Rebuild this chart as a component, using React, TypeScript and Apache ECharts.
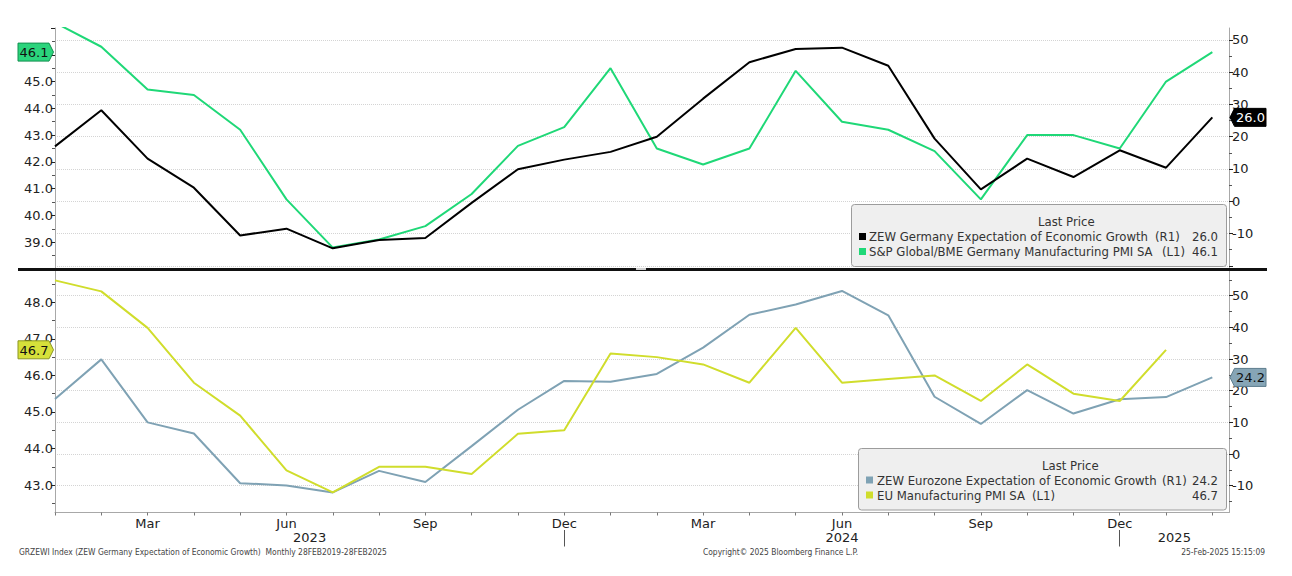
import React, { useEffect, useRef } from "react";
import * as echarts from "echarts";

// ---------- DATA ----------
const months = [
  "2023-01", "2023-02", "2023-03", "2023-04", "2023-05", "2023-06",
  "2023-07", "2023-08", "2023-09", "2023-10", "2023-11", "2023-12",
  "2024-01", "2024-02", "2024-03", "2024-04", "2024-05", "2024-06",
  "2024-07", "2024-08", "2024-09", "2024-10", "2024-11", "2024-12",
  "2025-01", "2025-02",
];
const monthNames = ["Jan", "Feb", "Mar", "Apr", "May", "Jun", "Jul", "Aug", "Sep", "Oct", "Nov", "Dec"];
const labelMonths = ["Mar", "Jun", "Sep", "Dec"];

// ZEW Germany Expectation of Economic Growth (R1)
const zewGermany = [
  17.0, 28.2, 13.2, 4.2, -10.6, -8.5, -14.6, -12.0, -11.4, -0.5, 9.9, 12.9,
  15.3, 20.0, 31.8, 43.1, 47.2, 47.6, 42.0, 19.4, 3.7, 13.2, 7.5, 15.8,
  10.4, 26.0,
];
// S&P Global/BME Germany Manufacturing PMI SA (L1)
const germanyPmi = [
  47.2, 46.3, 44.7, 44.5, 43.2, 40.6, 38.8, 39.1, 39.6, 40.8, 42.6, 43.3,
  45.5, 42.5, 41.9, 42.5, 45.4, 43.5, 43.2, 42.4, 40.6, 43.0, 43.0, 42.5,
  45.0, 46.1,
];
// ZEW Eurozone Expectation of Economic Growth (R1)
const zewEurozone = [
  17.4, 29.9, 10.0, 6.5, -9.2, -9.9, -12.1, -5.3, -8.8, 2.5, 14.0, 23.1,
  22.8, 25.3, 33.6, 44.0, 47.2, 51.5, 43.8, 18.1, 9.5, 20.2, 12.8, 17.3,
  18.0, 24.2,
];
// EU Manufacturing PMI SA (L1)
const euPmi: (number | null)[] = [
  48.6, 48.3, 47.3, 45.8, 44.9, 43.4, 42.8, 43.5, 43.5, 43.3, 44.4, 44.5,
  46.6, 46.5, 46.3, 45.8, 47.3, 45.8, 45.9, 46.0, 45.3, 46.3, 45.5, 45.3,
  46.7, null,
];

// Tick values
const topLeftTicks = [39, 40, 41, 42, 43, 44, 45, 46, 47];
const topLeftLabels = [39, 40, 41, 42, 43, 44, 45];
const topLeftMinor = [38.5, 39.5, 40.5, 41.5, 42.5, 43.5, 44.5, 45.5, 46.5];
const topRightTicks = [-20, -10, 0, 10, 20, 30, 40, 50];
const topRightLabels = [-10, 0, 10, 20, 30, 40, 50];
const topRightMinor = [-15, -5, 5, 15, 25, 35, 45];
const bottomLeftTicks = [43, 44, 45, 46, 47, 48];
const bottomLeftMinor = [42.5, 43.5, 44.5, 45.5, 46.5, 47.5, 48.5];
const bottomRightTicks = [-10, 0, 10, 20, 30, 40, 50];
const bottomRightMinor = [-15, -5, 5, 15, 25, 35, 45, 55];

// Axis ranges
const X_MAX = 25.36;
const TOP_L = [38, 47];
const TOP_R = [-21, 53.7];
const BOT_L = [42.248, 48.857];
const BOT_R = [-18.45, 57.8];

// ---------- STYLE ----------
const GREEN = "#1fd877";
const BLACK = "#000000";
const BLUEGRAY = "#7fa2b4";
const YELLOW = "#d0dd2c";
const AXIS_FONT = "DejaVu Sans";
const LEG_FONT = "'DejaVu Sans Condensed', 'Liberation Sans', sans-serif";
const FOOT_FONT = "'Liberation Sans Narrow', 'DejaVu Sans Condensed', 'Liberation Sans', sans-serif";

const lastOf = (arr: (number | null)[]) => {
  for (let i = arr.length - 1; i >= 0; i--) if (arr[i] != null) return arr[i] as number;
  return 0;
};
const pairs = (arr: (number | null)[]) =>
  arr.map((v, i) => [i, v]).filter((p) => p[1] != null);

const monthLabel = (i: number) => monthNames[parseInt(months[i].slice(5), 10) - 1];
const labelIdx = months.map((_, i) => i).filter((i) => labelMonths.includes(monthLabel(i)));
const tickIdx = months.map((_, i) => i);
const years = Array.from(new Set(months.map((m) => m.slice(0, 4))));
const yearBounds = years.map((y) => {
  const prev = months.indexOf(`${+y - 1}-12`);
  const cur = months.indexOf(`${y}-12`);
  const start = prev < 0 ? 0 : prev;
  const end = cur < 0 ? X_MAX : cur;
  return { year: y, mid: (start + end) / 2 };
});
const yearSeps = months.map((m, i) => (m.endsWith("-12") ? i : -1)).filter((i) => i >= 0);

const axisLabelStyle = { color: "#222", fontFamily: AXIS_FONT, fontSize: 13 };

function mainY(grid: number, pos: "left" | "right", range: number[], ticks: number[], labels: number[], decimals: number, split: boolean) {
  return {
    type: "value",
    gridIndex: grid,
    position: pos,
    min: range[0],
    max: range[1],
    axisLine: { show: true, onZero: false, lineStyle: { color: "#a8a8a8", width: 1 } },
    axisTick: { show: true, customValues: ticks, length: 4, inside: false, lineStyle: { color: "#222", width: 1 } },
    axisLabel: {
      show: true,
      customValues: labels,
      margin: pos === "left" ? 2 : 3,
      ...axisLabelStyle,
      formatter: (v: number) => v.toFixed(decimals),
    },
    splitLine: { show: split, lineStyle: { color: "#d4d4d4", type: "dotted", width: 1 } },
  };
}
function minorY(grid: number, pos: "left" | "right", range: number[], ticks: number[]) {
  return {
    type: "value",
    gridIndex: grid,
    position: pos,
    min: range[0],
    max: range[1],
    axisLine: { show: false, onZero: false },
    axisTick: { show: true, customValues: ticks, length: 3, lineStyle: { color: "#555", width: 1 } },
    axisLabel: { show: false },
    splitLine: { show: false },
  };
}

const baseOption: any = {
  animation: false,
  backgroundColor: "#ffffff",
  grid: [
    { left: 55, right: 63, top: 28, height: 241, containLabel: false },
    { left: 55, right: 63, top: 271, height: 241.5, containLabel: false },
  ],
  xAxis: [
    {
      type: "value", gridIndex: 0, min: 0, max: X_MAX, position: "bottom",
      axisLine: { show: false, onZero: false }, axisTick: { show: false }, axisLabel: { show: false }, splitLine: { show: false },
    },
    {
      type: "value", gridIndex: 1, min: 0, max: X_MAX, position: "bottom",
      axisLine: { show: true, onZero: false, lineStyle: { color: "#a8a8a8", width: 1 } },
      axisTick: { show: true, customValues: tickIdx, length: 3, lineStyle: { color: "#777" } },
      axisLabel: {
        show: true, customValues: labelIdx, margin: 4, ...axisLabelStyle,
        formatter: (v: number) => monthLabel(Math.round(v)),
      },
      splitLine: { show: false },
    },
    {
      type: "value", gridIndex: 1, min: 0, max: X_MAX, position: "bottom", offset: 14,
      axisLine: { show: false, onZero: false }, axisTick: { show: false },
      axisLabel: {
        show: true, customValues: yearBounds.map((b) => b.mid), margin: 4, ...axisLabelStyle,
        formatter: (v: number) => {
          const b = yearBounds.find((yb) => Math.abs(yb.mid - v) < 0.01);
          return b ? b.year : "";
        },
      },
      splitLine: { show: false },
    },
    {
      type: "value", gridIndex: 1, min: 0, max: X_MAX, position: "bottom", offset: 17.5,
      axisLine: { show: false, onZero: false },
      axisTick: { show: true, customValues: yearSeps, length: 16.5, lineStyle: { color: "#555", width: 1 } },
      axisLabel: { show: false },
      splitLine: { show: false },
    },
  ],
  yAxis: [
    mainY(0, "left", TOP_L, topLeftTicks, topLeftLabels, 1, false),
    mainY(0, "right", TOP_R, topRightTicks, topRightLabels, 0, true),
    minorY(0, "left", TOP_L, topLeftMinor),
    minorY(0, "right", TOP_R, topRightMinor),
    mainY(1, "left", BOT_L, bottomLeftTicks, bottomLeftTicks, 1, false),
    mainY(1, "right", BOT_R, bottomRightTicks, bottomRightTicks, 0, true),
    minorY(1, "left", BOT_L, bottomLeftMinor),
    minorY(1, "right", BOT_R, bottomRightMinor),
  ],
  series: [
    {
      name: "ZEW Germany Expectation of Economic Growth", type: "line", xAxisIndex: 0, yAxisIndex: 1,
      data: pairs(zewGermany), showSymbol: false, symbol: "none",
      lineStyle: { color: BLACK, width: 2 }, itemStyle: { color: BLACK }, z: 3,
    },
    {
      name: "S&P Global/BME Germany Manufacturing PMI SA", type: "line", xAxisIndex: 0, yAxisIndex: 0,
      data: pairs(germanyPmi), showSymbol: false, symbol: "none",
      lineStyle: { color: GREEN, width: 2 }, itemStyle: { color: GREEN }, z: 2,
    },
    {
      name: "ZEW Eurozone Expectation of Economic Growth", type: "line", xAxisIndex: 1, yAxisIndex: 5,
      data: pairs(zewEurozone), showSymbol: false, symbol: "none",
      lineStyle: { color: BLUEGRAY, width: 2 }, itemStyle: { color: BLUEGRAY }, z: 2,
    },
    {
      name: "EU Manufacturing PMI SA", type: "line", xAxisIndex: 1, yAxisIndex: 4,
      data: pairs(euPmi), showSymbol: false, symbol: "none",
      lineStyle: { color: YELLOW, width: 2 }, itemStyle: { color: YELLOW }, z: 3,
    },
  ],
};

function txt(x: number, y: number, text: string, opts: any = {}) {
  return {
    type: "text", x, y, z: 120, silent: true,
    style: {
      text, fill: opts.fill || "#333", fontFamily: opts.fontFamily || LEG_FONT,
      fontSize: opts.fontSize || 13, align: opts.align || "left", verticalAlign: "middle",
    },
  };
}
function leftTag(yc: number, text: string, fill: string, stroke: string, color: string) {
  return [
    {
      type: "polygon", z: 110, silent: true,
      shape: { points: [[18, yc - 9], [49, yc - 9], [53.5, yc], [49, yc + 9], [18, yc + 9]] },
      style: { fill, stroke, lineWidth: 1 },
    },
    txt(34, yc + 0.5, text, { fill: color, fontFamily: AXIS_FONT, align: "center" }),
  ];
}
function rightTag(yc: number, text: string, fill: string, stroke: string, color: string) {
  return [
    {
      type: "polygon", z: 110, silent: true,
      shape: { points: [[1230, yc], [1234.5, yc - 9], [1266, yc - 9], [1266, yc + 9], [1234.5, yc + 9]] },
      style: { fill, stroke, lineWidth: 1 },
    },
    txt(1250.5, yc + 0.5, text, { fill: color, fontFamily: AXIS_FONT, align: "center" }),
  ];
}

export default function App() {
  const ref = useRef<HTMLDivElement>(null);
  useEffect(() => {
    if (!ref.current) return;
    const chart = echarts.init(ref.current, null, { renderer: "svg" });
    chart.setOption(baseOption);

    const py = (axis: number, v: number) => chart.convertToPixel({ yAxisIndex: axis }, v) as unknown as number;
    const zg = lastOf(zewGermany);
    const gp = lastOf(germanyPmi);
    const ze = lastOf(zewEurozone);
    const ep = lastOf(euPmi);

    const graphics: any[] = [
      // panel separator
      { type: "rect", z: 100, silent: true, shape: { x: 18, y: 268, width: 1249, height: 3 }, style: { fill: "#111" } },
      { type: "rect", z: 101, silent: true, shape: { x: 636, y: 268, width: 10, height: 2 }, style: { fill: "#cfcfcf" } },
      // top legend
      { type: "rect", z: 105, silent: true, shape: { x: 851.5, y: 204.5, width: 375, height: 62, r: 3 }, style: { fill: "#efefef", stroke: "#9c9c9c", lineWidth: 1 } },
      txt(1038, 221, "Last Price"),
      { type: "rect", z: 120, silent: true, shape: { x: 859, y: 233, width: 7, height: 7 }, style: { fill: BLACK } },
      txt(869, 236.5, "ZEW Germany Expectation of Economic Growth"),
      txt(1155, 236.5, "(R1)"),
      txt(1218, 236.5, zg.toFixed(1), { align: "right" }),
      { type: "rect", z: 120, silent: true, shape: { x: 859, y: 248, width: 7, height: 7 }, style: { fill: GREEN } },
      txt(869, 251.5, "S&P Global/BME Germany Manufacturing PMI SA"),
      txt(1162, 251.5, "(L1)"),
      txt(1218, 251.5, gp.toFixed(1), { align: "right" }),
      // bottom legend
      { type: "rect", z: 105, silent: true, shape: { x: 858.5, y: 448.5, width: 368, height: 61.5, r: 3 }, style: { fill: "#efefef", stroke: "#9c9c9c", lineWidth: 1 } },
      txt(1042, 465, "Last Price"),
      { type: "rect", z: 120, silent: true, shape: { x: 866, y: 476.5, width: 7, height: 7 }, style: { fill: BLUEGRAY } },
      txt(877, 480, "ZEW Eurozone Expectation of Economic Growth"),
      txt(1162, 480, "(R1)"),
      txt(1218, 480, ze.toFixed(1), { align: "right" }),
      { type: "rect", z: 120, silent: true, shape: { x: 866, y: 491.5, width: 7, height: 7 }, style: { fill: YELLOW } },
      txt(877, 495, "EU Manufacturing PMI SA"),
      txt(1032, 495, "(L1)"),
      txt(1218, 495, ep.toFixed(1), { align: "right" }),
      // last value tags
      ...leftTag(py(0, gp), gp.toFixed(1), "#2bd47c", "#139050", "#111"),
      ...rightTag(py(1, zg), zg.toFixed(1), "#000000", "#000000", "#ffffff"),
      ...leftTag(py(4, ep), ep.toFixed(1), "#d6e03a", "#8a9520", "#111"),
      ...rightTag(py(5, ze), ze.toFixed(1), "#86a5b6", "#5d7d8d", "#111"),
      // footer
      txt(19, 552, "GRZEWI Index (ZEW Germany Expectation of Economic Growth)  Monthly 28FEB2019-28FEB2025", { fontFamily: FOOT_FONT, fontSize: 8.4, fill: "#444" }),
      txt(703, 552, "Copyright\u00A9 2025 Bloomberg Finance L.P.", { fontFamily: FOOT_FONT, fontSize: 8.4, fill: "#444" }),
      txt(1265, 552, "25-Feb-2025 15:15:09", { fontFamily: FOOT_FONT, fontSize: 8.4, fill: "#444", align: "right" }),
    ];
    chart.setOption({ graphic: graphics });
    return () => chart.dispose();
  }, []);
  return (
    <div
      ref={ref}
      style={{ position: "fixed", left: 0, top: 0, width: 1292, height: 576, background: "#fff" }}
    />
  );
}
